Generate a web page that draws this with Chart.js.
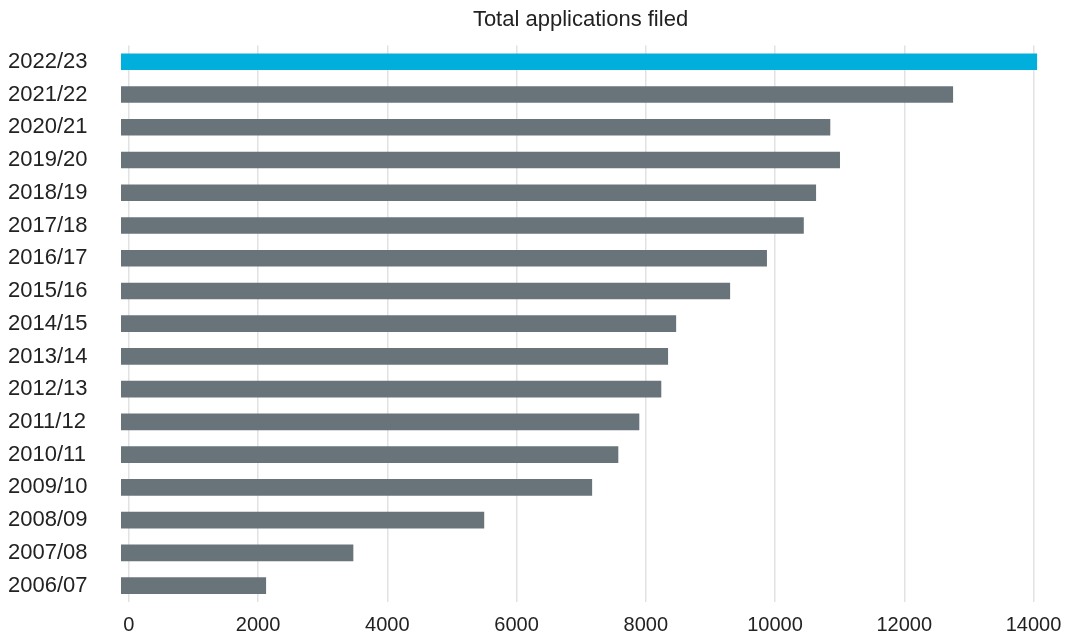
<!DOCTYPE html>
<html lang="en">
<head>
    <meta charset="UTF-8">
    <title>Total applications filed</title>
    <script src="https://cdn.jsdelivr.net/npm/chart.js"></script>
    <style>
        html, body { margin: 0; padding: 0; background: #fff; }
        #wrap { width: 1066px; height: 636px; }
    </style>
</head>
<body>
    <div id="wrap">
        <canvas id="apps-chart" width="1066" height="636"></canvas>
    </div>

    <script>
        // data
        const years = ['2022/23', '2021/22', '2020/21', '2019/20', '2018/19', '2017/18', '2016/17', '2015/16',
            '2014/15', '2013/14', '2012/13', '2011/12', '2010/11', '2009/10', '2008/09', '2007/08', '2006/07'];
        const applications = [14050, 12750, 10850, 11000, 10630, 10440, 9870, 9300,
            8465, 8340, 8235, 7895, 7570, 7165, 5495, 3470, 2120];
        const xTicks = [0, 2000, 4000, 6000, 8000, 10000, 12000, 14000];

        const fontFamily = "'Liberation Sans', Arial, sans-serif";
        const textColor = '#222222';

        const ctx = document.getElementById('apps-chart').getContext('2d');
        new Chart(ctx, {
            type: 'bar',
            data: {
                labels: years,
                datasets: [{
                    data: applications,
                    base: -120,
                    backgroundColor: years.map((y, i) => i === 0 ? '#00afdb' : '#69747a'),
                    barThickness: 16,
                    borderWidth: 0
                }]
            },
            options: {
                indexAxis: 'y',
                responsive: false,
                animation: false,
                layout: { padding: { left: 8, right: 26, top: 0, bottom: 0 } },
                plugins: {
                    legend: { display: false },
                    tooltip: { enabled: false },
                    title: {
                        display: true,
                        text: 'Total applications filed',
                        fullSize: false,
                        color: textColor,
                        font: { family: fontFamily, size: 22, weight: 'normal' },
                        padding: { top: 7, bottom: 12 }
                    }
                },
                scales: {
                    x: {
                        min: -120,
                        max: 14100,
                        afterBuildTicks: (scale) => {
                            scale.ticks = xTicks.map(v => ({ value: v }));
                        },
                        afterFit: (scale) => {
                            scale.height = 34;
                            scale.paddingLeft = 0;
                            scale.paddingRight = 0;
                        },
                        grid: { color: '#e2e2e2', lineWidth: 1.5, drawTicks: false },
                        border: { display: false },
                        ticks: {
                            callback: (v) => String(v),
                            color: textColor,
                            font: { family: fontFamily, size: 20 },
                            padding: 11,
                            maxRotation: 0
                        }
                    },
                    y: {
                        grid: { display: false },
                        border: { display: false },
                        afterFit: (scale) => { scale.width = 113; },
                        ticks: {
                            crossAlign: 'far',
                            color: textColor,
                            font: { family: fontFamily, size: 22 }
                        }
                    }
                }
            }
        });
    </script>
</body>
</html>
